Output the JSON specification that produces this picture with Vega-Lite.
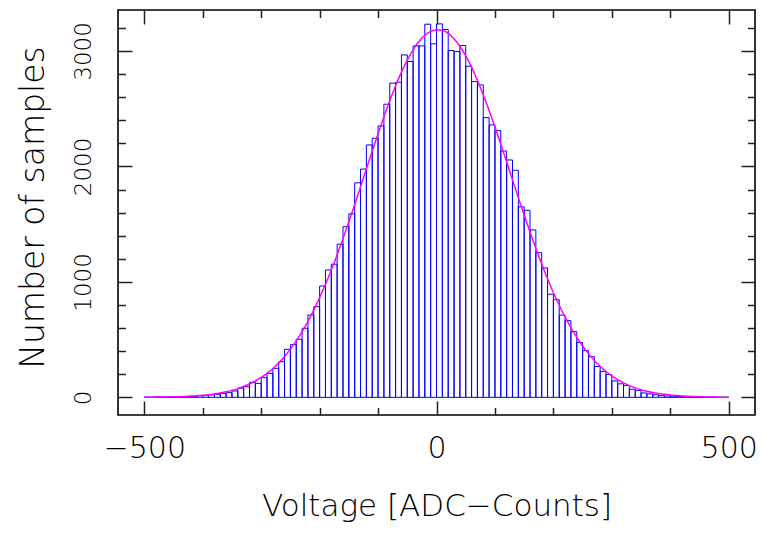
{
  "$schema": "https://vega.github.io/schema/vega-lite/v6.json",
  "width": 637,
  "height": 405,
  "autosize": {"type": "none"},
  "padding": {"left": 118, "top": 10, "right": 18, "bottom": 118},
  "background": "white",
  "config": {
    "view": {"stroke": "#000000", "strokeWidth": 1.6},
    "axis": {
      "domain": false,
      "grid": false,
      "tickColor": "#222222",
      "tickWidth": 1.5,
      "labelFont": "DejaVu Sans ExtraLight, DejaVu Sans",
      "labelFontWeight": 200,
      "labelColor": "#000000",
      "labelOverlap": false,
      "labelFlush": false,
      "format": "d",
      "titleFont": "DejaVu Sans ExtraLight, DejaVu Sans",
      "titleFontWeight": 200,
      "titleColor": "#000000"
    }
  },
  "datasets": {
    "hist": [
      {"x0": -500, "x1": -490, "n": 1}, {"x0": -490, "x1": -480, "n": 1}, {"x0": -480, "x1": -470, "n": 2}, {"x0": -470, "x1": -460, "n": 2},
      {"x0": -460, "x1": -450, "n": 3}, {"x0": -450, "x1": -440, "n": 4}, {"x0": -440, "x1": -430, "n": 6}, {"x0": -430, "x1": -420, "n": 8},
      {"x0": -420, "x1": -410, "n": 9}, {"x0": -410, "x1": -400, "n": 14}, {"x0": -400, "x1": -390, "n": 15}, {"x0": -390, "x1": -380, "n": 21},
      {"x0": -380, "x1": -370, "n": 26}, {"x0": -370, "x1": -360, "n": 35}, {"x0": -360, "x1": -350, "n": 40}, {"x0": -350, "x1": -340, "n": 55},
      {"x0": -340, "x1": -330, "n": 80}, {"x0": -330, "x1": -320, "n": 92}, {"x0": -320, "x1": -310, "n": 130}, {"x0": -310, "x1": -300, "n": 121},
      {"x0": -300, "x1": -290, "n": 170}, {"x0": -290, "x1": -280, "n": 208}, {"x0": -280, "x1": -270, "n": 251}, {"x0": -270, "x1": -260, "n": 309},
      {"x0": -260, "x1": -250, "n": 416}, {"x0": -250, "x1": -240, "n": 456}, {"x0": -240, "x1": -230, "n": 503}, {"x0": -230, "x1": -220, "n": 598},
      {"x0": -220, "x1": -210, "n": 713}, {"x0": -210, "x1": -200, "n": 785}, {"x0": -200, "x1": -190, "n": 964}, {"x0": -190, "x1": -180, "n": 1103},
      {"x0": -180, "x1": -170, "n": 1153}, {"x0": -170, "x1": -160, "n": 1326}, {"x0": -160, "x1": -150, "n": 1478}, {"x0": -150, "x1": -140, "n": 1590},
      {"x0": -140, "x1": -130, "n": 1858}, {"x0": -130, "x1": -120, "n": 1977}, {"x0": -120, "x1": -110, "n": 2186}, {"x0": -110, "x1": -100, "n": 2244},
      {"x0": -100, "x1": -90, "n": 2351}, {"x0": -90, "x1": -80, "n": 2539}, {"x0": -80, "x1": -70, "n": 2721}, {"x0": -70, "x1": -60, "n": 2730},
      {"x0": -60, "x1": -50, "n": 2966}, {"x0": -50, "x1": -40, "n": 2909}, {"x0": -40, "x1": -30, "n": 3044}, {"x0": -30, "x1": -20, "n": 3044},
      {"x0": -20, "x1": -10, "n": 3232}, {"x0": -10, "x1": 0, "n": 3062}, {"x0": 0, "x1": 10, "n": 3235}, {"x0": 10, "x1": 20, "n": 3186},
      {"x0": 20, "x1": 30, "n": 3004}, {"x0": 30, "x1": 40, "n": 2995}, {"x0": 40, "x1": 50, "n": 3047}, {"x0": 50, "x1": 60, "n": 2868},
      {"x0": 60, "x1": 70, "n": 2735}, {"x0": 70, "x1": 80, "n": 2706}, {"x0": 80, "x1": 90, "n": 2423}, {"x0": 90, "x1": 100, "n": 2360},
      {"x0": 100, "x1": 110, "n": 2310}, {"x0": 110, "x1": 120, "n": 2134}, {"x0": 120, "x1": 130, "n": 2056}, {"x0": 130, "x1": 140, "n": 1967},
      {"x0": 140, "x1": 150, "n": 1650}, {"x0": 150, "x1": 160, "n": 1620}, {"x0": 160, "x1": 170, "n": 1450}, {"x0": 170, "x1": 180, "n": 1253},
      {"x0": 180, "x1": 190, "n": 1121}, {"x0": 190, "x1": 200, "n": 893}, {"x0": 200, "x1": 210, "n": 846}, {"x0": 210, "x1": 220, "n": 712},
      {"x0": 220, "x1": 230, "n": 664}, {"x0": 230, "x1": 240, "n": 569}, {"x0": 240, "x1": 250, "n": 475}, {"x0": 250, "x1": 260, "n": 405},
      {"x0": 260, "x1": 270, "n": 352}, {"x0": 270, "x1": 280, "n": 267}, {"x0": 280, "x1": 290, "n": 225}, {"x0": 290, "x1": 300, "n": 198},
      {"x0": 300, "x1": 310, "n": 142}, {"x0": 310, "x1": 320, "n": 117}, {"x0": 320, "x1": 330, "n": 102}, {"x0": 330, "x1": 340, "n": 70},
      {"x0": 340, "x1": 350, "n": 60}, {"x0": 350, "x1": 360, "n": 38}, {"x0": 360, "x1": 370, "n": 30}, {"x0": 370, "x1": 380, "n": 22},
      {"x0": 380, "x1": 390, "n": 15}, {"x0": 390, "x1": 400, "n": 12}, {"x0": 400, "x1": 410, "n": 10}, {"x0": 410, "x1": 420, "n": 8},
      {"x0": 420, "x1": 430, "n": 5}, {"x0": 430, "x1": 440, "n": 4}, {"x0": 440, "x1": 450, "n": 3}, {"x0": 450, "x1": 460, "n": 2},
      {"x0": 460, "x1": 470, "n": 1}, {"x0": 470, "x1": 480, "n": 1}, {"x0": 480, "x1": 490, "n": 0}, {"x0": 490, "x1": 500, "n": 0}
    ],
    "fit": [
      {"v": -500, "f": 1.0}, {"v": -490, "f": 1.4}, {"v": -480, "f": 1.9}, {"v": -470, "f": 2.6}, {"v": -460, "f": 3.4},
      {"v": -450, "f": 4.6}, {"v": -440, "f": 6.1}, {"v": -430, "f": 8.1}, {"v": -420, "f": 10.7}, {"v": -410, "f": 13.9},
      {"v": -400, "f": 18.1}, {"v": -390, "f": 23.3}, {"v": -380, "f": 29.9}, {"v": -370, "f": 38.0}, {"v": -360, "f": 48.1},
      {"v": -350, "f": 60.4}, {"v": -340, "f": 75.5}, {"v": -330, "f": 93.6}, {"v": -320, "f": 115.4}, {"v": -310, "f": 141.3},
      {"v": -300, "f": 172.0}, {"v": -290, "f": 208.0}, {"v": -280, "f": 250.0}, {"v": -270, "f": 298.5}, {"v": -260, "f": 354.1},
      {"v": -250, "f": 417.4}, {"v": -240, "f": 488.9}, {"v": -230, "f": 569.0}, {"v": -220, "f": 658.0}, {"v": -210, "f": 756.0},
      {"v": -200, "f": 863.0}, {"v": -190, "f": 979.0}, {"v": -180, "f": 1103.5}, {"v": -170, "f": 1235.8}, {"v": -160, "f": 1375.2},
      {"v": -150, "f": 1520.6}, {"v": -140, "f": 1670.6}, {"v": -130, "f": 1823.7}, {"v": -120, "f": 1978.1}, {"v": -110, "f": 2131.9},
      {"v": -100, "f": 2283.0}, {"v": -90, "f": 2429.3}, {"v": -80, "f": 2568.4}, {"v": -70, "f": 2698.1}, {"v": -60, "f": 2816.4},
      {"v": -50, "f": 2921.0}, {"v": -40, "f": 3010.2}, {"v": -30, "f": 3082.3}, {"v": -20, "f": 3136.0}, {"v": -10, "f": 3170.4},
      {"v": 0, "f": 3184.6}, {"v": 10, "f": 3178.5}, {"v": 20, "f": 3152.1}, {"v": 30, "f": 3106.1}, {"v": 40, "f": 3041.2},
      {"v": 50, "f": 2958.6}, {"v": 60, "f": 2859.9}, {"v": 70, "f": 2746.9}, {"v": 80, "f": 2621.5}, {"v": 90, "f": 2485.9},
      {"v": 100, "f": 2342.2}, {"v": 110, "f": 2192.8}, {"v": 120, "f": 2039.8}, {"v": 130, "f": 1885.4}, {"v": 140, "f": 1731.6},
      {"v": 150, "f": 1580.1}, {"v": 160, "f": 1432.8}, {"v": 170, "f": 1290.8}, {"v": 180, "f": 1155.5}, {"v": 190, "f": 1027.8},
      {"v": 200, "f": 908.4}, {"v": 210, "f": 797.7}, {"v": 220, "f": 696.1}, {"v": 230, "f": 603.5}, {"v": 240, "f": 519.9},
      {"v": 250, "f": 445.0}, {"v": 260, "f": 378.5}, {"v": 270, "f": 319.8}, {"v": 280, "f": 268.6}, {"v": 290, "f": 224.1},
      {"v": 300, "f": 185.7}, {"v": 310, "f": 153.0}, {"v": 320, "f": 125.2}, {"v": 330, "f": 101.9}, {"v": 340, "f": 82.3},
      {"v": 350, "f": 66.1}, {"v": 360, "f": 52.7}, {"v": 370, "f": 41.8}, {"v": 380, "f": 32.9}, {"v": 390, "f": 25.8},
      {"v": 400, "f": 20.0}, {"v": 410, "f": 15.5}, {"v": 420, "f": 11.9}, {"v": 430, "f": 9.1}, {"v": 440, "f": 6.9},
      {"v": 450, "f": 5.2}, {"v": 460, "f": 3.9}, {"v": 470, "f": 2.9}, {"v": 480, "f": 2.1}, {"v": 490, "f": 1.6},
      {"v": 500, "f": 1.1}
    ]
  },
  "layer": [
    {
      "data": {"name": "hist"},
      "mark": {"type": "bar", "fill": "#ffffff", "fillOpacity": 0, "stroke": "#0000ff", "strokeWidth": 1},
      "encoding": {
        "x": {
          "field": "x0", "type": "quantitative",
          "scale": {"domain": [-545, 545], "nice": false, "zero": false},
          "axis": {
            "orient": "bottom", "values": [-500, 0, 500], "tickSize": -14,
            "labelPadding": 56, "labelBaseline": "alphabetic", "labelFontSize": 30,
            "title": "Voltage [ADC−Counts]", "titleFontSize": 31, "titleY": 100, "titleBaseline": "alphabetic"
          }
        },
        "x2": {"field": "x1"},
        "y": {
          "field": "n", "type": "quantitative",
          "scale": {"domain": [-153, 3355], "nice": false, "zero": false},
          "axis": {
            "orient": "left", "values": [0, 1000, 2000, 3000], "tickSize": -14,
            "labelAngle": -90, "labelAlign": "center", "labelBaseline": "alphabetic",
            "labelPadding": 42, "labelFontSize": 23,
            "title": "Number of samples", "titleFontSize": 33, "titleAngle": -90,
            "titleX": -75, "titleY": 197, "titleAlign": "center", "titleBaseline": "alphabetic"
          }
        },
        "y2": {"datum": 0}
      }
    },
    {
      "data": {"name": "fit"},
      "mark": {"type": "line", "color": "#ff00ff", "strokeWidth": 1.5, "interpolate": "monotone"},
      "encoding": {
        "x": {
          "field": "v", "type": "quantitative",
          "scale": {"domain": [-545, 545], "nice": false, "zero": false},
          "axis": {"orient": "top", "values": [-500, 0, 500], "tickSize": -14, "labels": false, "title": null}
        },
        "y": {
          "field": "f", "type": "quantitative",
          "scale": {"domain": [-153, 3355], "nice": false, "zero": false},
          "axis": {"orient": "right", "values": [0, 1000, 2000, 3000], "tickSize": -14, "labels": false, "title": null}
        }
      }
    },
    {
      "data": {"name": "fit"},
      "mark": {"type": "line", "opacity": 0},
      "encoding": {
        "x": {
          "field": "v", "type": "quantitative",
          "scale": {"domain": [-545, 545], "nice": false, "zero": false},
          "axis": {"orient": "bottom", "values": [-400, -300, -200, -100, 100, 200, 300, 400], "tickSize": -7.5, "labels": false, "title": null}
        },
        "y": {
          "field": "f", "type": "quantitative",
          "scale": {"domain": [-153, 3355], "nice": false, "zero": false},
          "axis": {"orient": "left", "values": [200, 400, 600, 800, 1200, 1400, 1600, 1800, 2200, 2400, 2600, 2800, 3200], "tickSize": -7.5, "labels": false, "title": null}
        }
      }
    },
    {
      "data": {"name": "fit"},
      "mark": {"type": "line", "opacity": 0},
      "encoding": {
        "x": {
          "field": "v", "type": "quantitative",
          "scale": {"domain": [-545, 545], "nice": false, "zero": false},
          "axis": {"orient": "top", "values": [-400, -300, -200, -100, 100, 200, 300, 400], "tickSize": -7.5, "labels": false, "title": null}
        },
        "y": {
          "field": "f", "type": "quantitative",
          "scale": {"domain": [-153, 3355], "nice": false, "zero": false},
          "axis": {"orient": "right", "values": [200, 400, 600, 800, 1200, 1400, 1600, 1800, 2200, 2400, 2600, 2800, 3200], "tickSize": -7.5, "labels": false, "title": null}
        }
      }
    }
  ],
  "resolve": {"axis": {"x": "independent", "y": "independent"}}
}
